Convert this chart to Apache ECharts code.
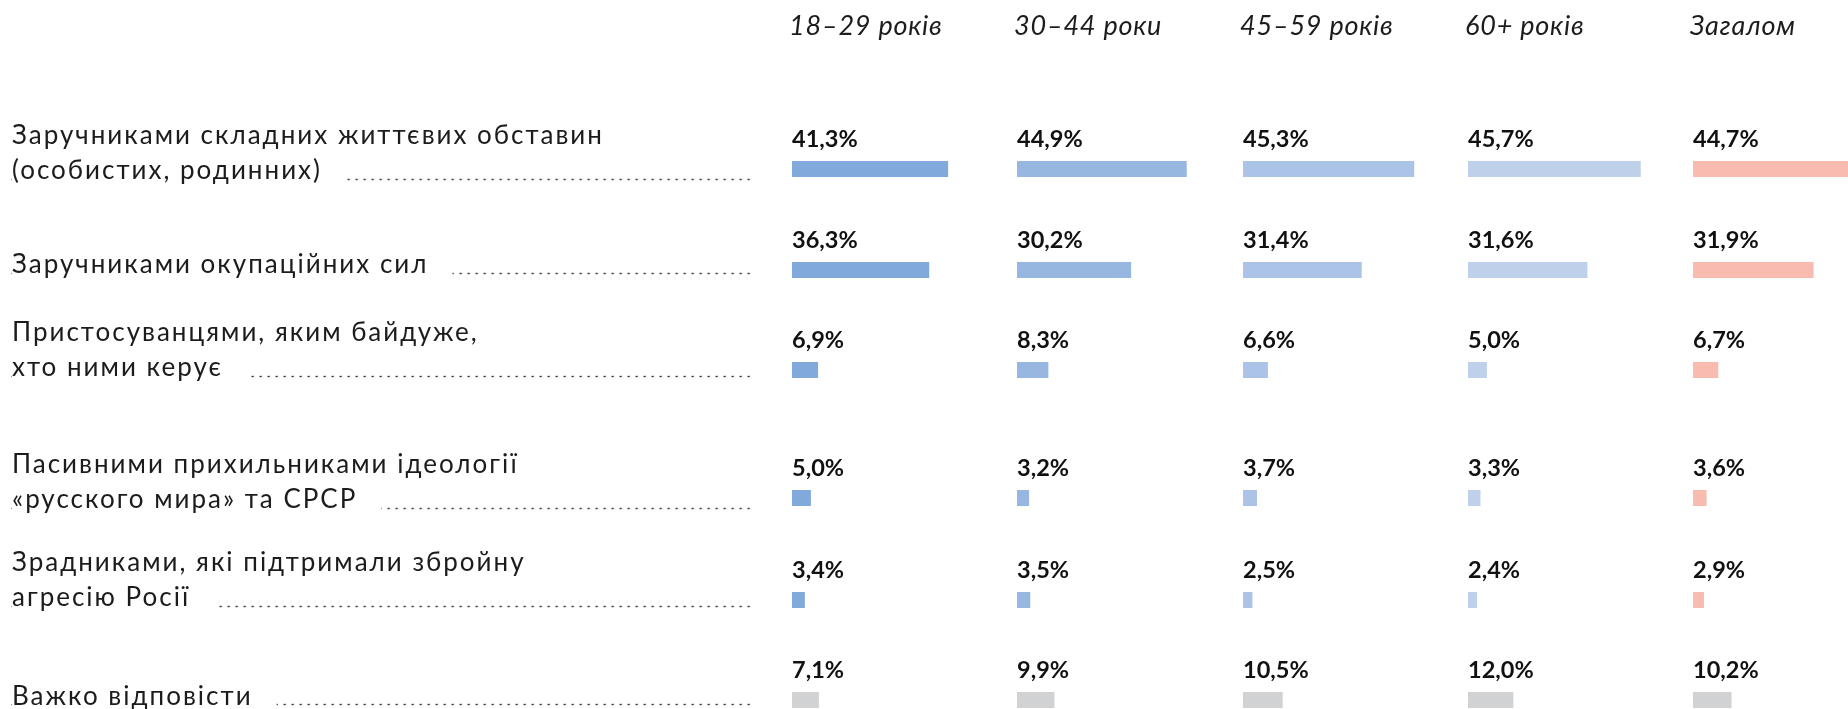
<!DOCTYPE html>
<html>
<head>
<meta charset="utf-8">
<script src="https://cdn.jsdelivr.net/npm/echarts@6/dist/echarts.min.js"></script>
<style>
html,body{margin:0;padding:0;background:#fff;}
#chart{width:1848px;height:709px;}
</style>
</head>
<body>
<div id="chart"></div>
<script>
// ---- data ----
const categories = [
  'Заручниками складних життєвих обставин\n(особистих, родинних)',
  'Заручниками окупаційних сил',
  'Пристосуванцями, яким байдуже,\nхто ними керує',
  'Пасивними прихильниками ідеології\n«русского мира» та СРСР',
  'Зрадниками, які підтримали збройну\nагресію Росії',
  'Важко відповісти'
];
const groups = ['18–29 років', '30–44 роки', '45–59 років', '60+ років', 'Загалом'];
const age18_29  = [41.3, 36.3, 6.9, 5.0, 3.4, 7.1];
const age30_44  = [44.9, 30.2, 8.3, 3.2, 3.5, 9.9];
const age45_59  = [45.3, 31.4, 6.6, 3.7, 2.5, 10.5];
const age60plus = [45.7, 31.6, 5.0, 3.3, 2.4, 12.0];
const overall   = [44.7, 31.9, 6.7, 3.6, 2.9, 10.2];
const seriesValues = [age18_29, age30_44, age45_59, age60plus, overall];

// ---- layout / style ----
const chartWidth = 1848;
const colLeft = [792, 1017, 1243, 1468, 1693];
const rowTop = [161, 262, 362, 490, 592, 692];
const labelShift = [0, -7, -4, 0, -4, -5.5];
const barH = 16;
const pxPerPct = 3.78;
const colColors = ['#81a9db', '#97b6e0', '#abc3e7', '#bfd0eb', '#f7bcaf'];
const greyColor = '#d1d2d4';
const labelFont = 'Lato, "Noto Sans", sans-serif';
const textColor = '#1c1c1c';

// letter spacing (reference text is slightly tracked)
const spacingByZ = {0: 2.0, 1: 0, 2: 0.8};
function spacingFor(font) {
  if (/italic/.test(font)) return spacingByZ[2];
  if (/bold/.test(font)) return spacingByZ[1];
  if (/\b26px/.test(font)) return spacingByZ[0];
  return 0;
}
const mctx = document.createElement('canvas').getContext('2d');
if (echarts.setPlatformAPI) {
  echarts.setPlatformAPI({
    measureText: function (text, font) {
      mctx.font = font;
      if ('letterSpacing' in mctx) mctx.letterSpacing = spacingFor(font) + 'px';
      return mctx.measureText(text);
    }
  });
}

const grids = [], xAxes = [], yAxes = [], series = [];

const richBase = {fontFamily: labelFont, fontSize: 26, lineHeight: 35, color: textColor};

// category label grids (left side, with dotted leader)
categories.forEach((cat, r) => {
  const gi = grids.length;
  grids.push({left: 12, top: rowTop[r] + 18 + labelShift[r], width: 742, height: 19, outerBoundsMode: 'none'});
  xAxes.push({
    gridIndex: gi, type: 'value', min: 0, max: 1, position: 'top', z: 1, zlevel: 0,
    axisLine: {show: true, lineStyle: {color: '#444', width: 1.3, type: [1.3, 6.7]}},
    axisTick: {show: false}, axisLabel: {show: false}, splitLine: {show: false}
  });
  yAxes.push({
    gridIndex: gi, type: 'category', data: [cat], z: 5, zlevel: 0,
    axisLine: {show: false}, axisTick: {show: false}, splitLine: {show: false},
    axisLabel: {
      show: true, inside: true, margin: 0, align: 'left', verticalAlign: 'bottom',
      fontFamily: labelFont, fontSize: 26, lineHeight: 35, color: textColor,
      formatter: function (v) {
        const lines = v.split('\n');
        return lines.map((l, i) => (i === lines.length - 1 ? '{last|' : '{n|') + l + '}').join('\n');
      },
      rich: {
        n: Object.assign({}, richBase),
        last: Object.assign({backgroundColor: '#fff', padding: [0, 24, 0, 0]}, richBase)
      }
    }
  });
});

// bar grids
categories.forEach((cat, r) => {
  seriesValues.forEach((vals, c) => {
    const gi = grids.length;
    const w = Math.min(100 * pxPerPct, chartWidth - colLeft[c]);
    grids.push({left: colLeft[c], top: rowTop[r], width: w, height: barH, outerBoundsMode: 'none'});
    xAxes.push({gridIndex: gi, type: 'value', min: 0, max: w / pxPerPct, show: false});
    yAxes.push({gridIndex: gi, type: 'category', data: [cat], show: false});
    series.push({
      type: 'bar', xAxisIndex: gi, yAxisIndex: gi, zlevel: 1, clip: false,
      data: [vals[r]], barWidth: barH, silent: true,
      itemStyle: {color: r === categories.length - 1 ? greyColor : colColors[c]},
      label: {
        show: true, position: [0, -10], align: 'left', verticalAlign: 'bottom',
        fontFamily: labelFont, fontWeight: 'bold', fontSize: 23.5, color: '#111',
        formatter: p => p.value.toFixed(1).replace('.', ',') + '%'
      }
    });
  });
});

const titles = groups.map((g, i) => ({
  text: g, left: colLeft[i] - 8, top: 7, zlevel: 2,
  textStyle: {fontFamily: labelFont, fontStyle: 'italic', fontWeight: 'normal', fontSize: 27, color: textColor}
}));

const chart = echarts.init(document.getElementById('chart'), null, {renderer: 'canvas'});

function applySpacing() {
  try {
    const painter = chart.getZr().painter;
    [0, 1, 2].forEach(z => {
      const layer = painter.getLayer(z);
      if (layer && layer.ctx && 'letterSpacing' in layer.ctx) layer.ctx.letterSpacing = spacingByZ[z] + 'px';
    });
  } catch (e) {}
}
applySpacing();

chart.setOption({
  animation: false,
  backgroundColor: '#fff',
  title: titles,
  grid: grids, xAxis: xAxes, yAxis: yAxes, series: series
});
applySpacing();
try { chart.getZr().painter.refresh(true); } catch (e) {}
</script>
</body>
</html>
